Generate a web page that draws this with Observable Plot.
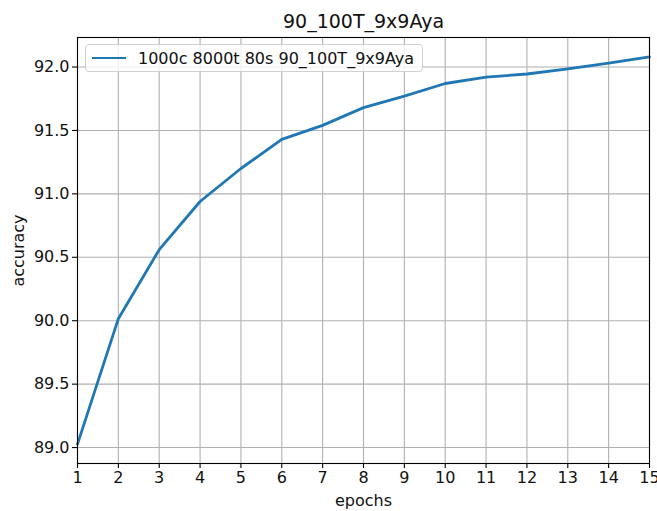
<!DOCTYPE html>
<html>
<head>
<meta charset="utf-8">
<script src="https://cdn.jsdelivr.net/npm/d3@7"></script>
<script src="https://cdn.jsdelivr.net/npm/@observablehq/plot@0.6"></script>
<style>
  html, body { margin: 0; padding: 0; background: #fff; }
  #wrap { position: relative; width: 657px; height: 511px; font-family: "DejaVu Sans", sans-serif; }
  #legend { position: absolute; left: 85px; top: 44px; height: 28px; padding: 0 8px 0 6px;
    border: 1px solid #d0d0d0; border-radius: 4px; background: rgba(255,255,255,0.8);
    display: flex; align-items: center; font-size: 16px; color: #111; white-space: nowrap; box-sizing: border-box; }
  #legend .sw { display: inline-block; width: 34px; height: 0; border-top: 2.8px solid #1f77b4; margin-right: 12px; }
</style>
</head>
<body>
<div id="wrap"></div>
<script>
const title = "90_100T_9x9Aya";
const seriesName = "1000c 8000t 80s 90_100T_9x9Aya";
const epochs = [1, 2, 3, 4, 5, 6, 7, 8, 9, 10, 11, 12, 13, 14, 15];
const accuracy = [89.027, 90.016, 90.56, 90.94, 91.20, 91.43, 91.54, 91.68, 91.77, 91.87, 91.92, 91.945, 91.985, 92.03, 92.08];
const xTicks = [1, 2, 3, 4, 5, 6, 7, 8, 9, 10, 11, 12, 13, 14, 15];
const yTicks = [89.0, 89.5, 90.0, 90.5, 91.0, 91.5, 92.0];
const xLabel = "epochs";
const yLabel = "accuracy";

const data = epochs.map((e, i) => ({epoch: e, acc: accuracy[i]}));
const yMin = d3.min(accuracy), yMax = d3.max(accuracy), pad = (yMax - yMin) * 0.05;

const chart = Plot.plot({
  width: 657,
  height: 511,
  marginLeft: 77,
  marginRight: 8,
  marginTop: 37,
  marginBottom: 48,
  style: {fontFamily: "DejaVu Sans, sans-serif", fontSize: "16px", color: "#111", background: "#fff"},
  x: {domain: [1, 15]},
  y: {domain: [yMin - pad, yMax + pad]},
  marks: [
    Plot.gridX(xTicks, {stroke: "#b0b0b0", strokeOpacity: 1, strokeWidth: 1.1}),
    Plot.gridY(yTicks, {stroke: "#b0b0b0", strokeOpacity: 1, strokeWidth: 1.1}),
    Plot.line(data, {x: "epoch", y: "acc", stroke: "#1f77b4", strokeWidth: 2.8}),
    Plot.frame({stroke: "#000", strokeWidth: 1.1}),
    Plot.axisX({ticks: xTicks, tickSize: 5, tickPadding: 3, tickFormat: d3.format("d"), label: null, fontSize: 16, stroke: "#000", strokeWidth: 1.1}),
    Plot.axisY({ticks: yTicks, tickSize: 5, tickPadding: 3, tickFormat: d3.format(".1f"), label: null, fontSize: 16, stroke: "#000", strokeWidth: 1.1}),
    Plot.text([xLabel], {frameAnchor: "bottom", lineAnchor: "middle", dy: 37, fontSize: 16, fill: "#111"}),
    Plot.text([yLabel], {frameAnchor: "left", textAnchor: "middle", lineAnchor: "middle", dx: -59, rotate: -90, fontSize: 16, fill: "#111"}),
    Plot.text([title], {frameAnchor: "top", lineAnchor: "middle", dy: -16, fontSize: 19, fill: "#111"})
  ]
});

const wrap = document.getElementById("wrap");
wrap.appendChild(chart);
const lg = document.createElement("div");
lg.id = "legend";
const sw = document.createElement("span");
sw.className = "sw";
lg.appendChild(sw);
lg.appendChild(document.createTextNode(seriesName));
wrap.appendChild(lg);
</script>
</body>
</html>
